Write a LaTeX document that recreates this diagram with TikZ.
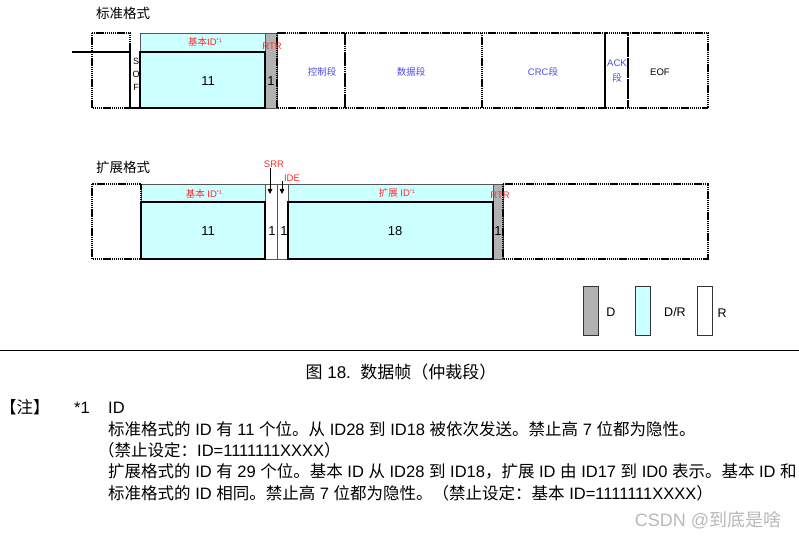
\documentclass[tikz,border=0pt]{standalone}
\usepackage{fontspec}
\setmainfont{Liberation Sans}
\newfontfamily\cjkfont{Noto Sans CJK SC}
\usetikzlibrary{arrows.meta,positioning}

% switch to the CJK font for Chinese characters and back for Latin
\XeTeXinterchartokenstate=1
\newXeTeXintercharclass\cjkclass
\newcount\cjkcode
\cjkcode="3000
\loop\XeTeXcharclass\cjkcode=\cjkclass\advance\cjkcode by 1 \ifnum\cjkcode<"3040 \repeat
\cjkcode="4E00
\loop\XeTeXcharclass\cjkcode=\cjkclass\advance\cjkcode by 1 \ifnum\cjkcode<"A000 \repeat
\cjkcode="FF00
\loop\XeTeXcharclass\cjkcode=\cjkclass\advance\cjkcode by 1 \ifnum\cjkcode<"FFF0 \repeat
\XeTeXinterchartoks 0 \cjkclass = {\cjkfont}
\XeTeXinterchartoks 4095 \cjkclass = {\cjkfont}
\XeTeXinterchartoks \cjkclass 0 = {\rmfamily}
\XeTeXinterchartoks \cjkclass 4095 = {\rmfamily}

\definecolor{canCyan}{HTML}{CCFFFF}
\definecolor{canGray}{HTML}{B2B2B2}
\definecolor{canRed}{HTML}{FF2A2A}
\definecolor{canBlue}{HTML}{4B4BE6}
\definecolor{canEdge}{HTML}{555555}
\definecolor{canMark}{HTML}{B8B8B8}

\newcommand\fnmark{\raisebox{0.6ex}{\fontsize{5.5}{6}\selectfont *1}}

\tikzset{
  fieldbox/.style={draw, line width=2pt, dash pattern=on 1.4pt off 0.7pt},
  cellbox/.style={draw=canEdge, line width=0.6pt},
  idcell/.style={cellbox, fill=canCyan},
  rtrcell/.style={cellbox, fill=canGray},
  idframe/.style={draw, line width=2.3pt},
  busline/.style={draw, line width=2.3pt},
  frametitle/.style={font=\fontsize{13.5}{15}\selectfont, inner sep=0pt},
  redtag/.style={text=canRed, font=\fontsize{9.5}{10}\selectfont, inner sep=0pt},
  fieldtag/.style={text=canBlue, font=\fontsize{9.5}{10}\selectfont, inner sep=0pt, align=center},
  bitnum/.style={font=\fontsize{13}{14}\selectfont, inner sep=0pt},
  softag/.style={font=\fontsize{9}{10}\selectfont, inner sep=0pt},
  keybox/.style={draw=black!80, line width=0.8pt},
  keytag/.style={font=\fontsize{12.5}{14}\selectfont, inner sep=0pt},
  bitarrow/.style={-{Triangle[length=5pt,width=4.5pt]}, line width=0.8pt},
  notetext/.style={font=\fontsize{16.5}{20}\selectfont, inner sep=0pt, anchor=base west}
}

\begin{document}
\begin{tikzpicture}[x=1pt, y=-1pt]
  \useasboundingbox (0,0) rectangle (799,537);

  % standard format
  \node[frametitle] (stdtitle) at (123,13) {标准格式};
  \draw[idcell] (140,33) rectangle (265,108);
  \draw[rtrcell] (265,33) rectangle (277,108);
  \draw[fieldbox] (92,33) rectangle (130,108);
  \draw[fieldbox] (277,33) rectangle (345,108);
  \draw[fieldbox] (345,33) rectangle (482,108);
  \draw[fieldbox] (482,33) rectangle (605,108);
  \draw[fieldbox] (605,33) rectangle (628,108);
  \draw[fieldbox] (628,33) rectangle (708,108);
  \draw[busline] (72,52) -- (130,52) -- (130,108) -- (140,108);
  \draw[idframe] (140,52) rectangle (265,108);
  \node[redtag] (stdbase) at (205,42) {基本ID\fnmark};
  \node[bitnum] (stdbasen) at (208,81) {11};
  \node[redtag] (stdrtr) at (272,46) {RTR};
  \node[bitnum] (stdrtrn) at (271,81) {1};
  \node[softag] (sofs) at (136,61) {S};
  \node[softag] (sofo) at (136,74) {O};
  \node[softag] (soff) at (136,87) {F};
  \node[fieldtag] (ctrl) at (322,72) {控制段};
  \node[fieldtag] (data) at (411,72) {数据段};
  \node[fieldtag] (crc) at (543,72) {CRC段};
  \node[fieldtag] (ack) at (617,63) {ACK};
  \node[fieldtag] (ackd) at (617,78) {段};
  \node[softag, font=\fontsize{9.5}{10}\selectfont] (eof) at (660,72) {EOF};

  % extended format
  \node[frametitle] (exttitle) at (123,167) {扩展格式};
  \draw[idcell] (141,184) rectangle (265,259);
  \draw[cellbox, fill=white] (265,184) rectangle (277,259);
  \draw[cellbox, fill=white] (277,184) rectangle (288,259);
  \draw[idcell] (288,184) rectangle (493,259);
  \draw[rtrcell] (493,184) rectangle (503,259);
  \draw[fieldbox] (92,184) rectangle (141,259);
  \draw[fieldbox] (503,184) rectangle (708,259);
  \draw[idframe] (141,202) rectangle (265,259);
  \draw[idframe] (288,202) rectangle (493,259);
  \node[redtag] (extbase) at (204,194) {基本 ID\fnmark};
  \node[bitnum] (extbasen) at (208,231) {11};
  \node[redtag] (srr) at (274,164) {SRR};
  \node[redtag] (ide) at (292,178) {IDE};
  \coordinate (srrtip) at (270,194);
  \coordinate (idetip) at (282,194);
  \draw[bitarrow] (srr.south -| srrtip) -- (srrtip);
  \draw[bitarrow] (ide.south -| idetip) -- (idetip);
  \node[bitnum] (srrn) at (272,231) {1};
  \node[bitnum] (iden) at (284,231) {1};
  \node[redtag] (extid) at (397,193) {扩展 ID\fnmark};
  \node[bitnum] (extidn) at (395,231) {18};
  \node[redtag] (extrtr) at (500,195) {RTR};
  \node[bitnum] (extrtrn) at (498,231) {1};

  % legend
  \draw[keybox, fill=canGray] (583,286) rectangle (598,335);
  \draw[keybox, fill=canCyan] (635,286) rectangle (650,335);
  \draw[keybox, fill=white] (697,286) rectangle (712,335);
  \node[keytag] (keyd) at (611,312) {D};
  \node[keytag] (keydr) at (675,312) {D/R};
  \node[keytag] (keyr) at (722,313) {R};

  % caption and notes
  \draw[line width=0.9pt] (0,350) -- (799,350);
  \node[font=\fontsize{17}{20}\selectfont, inner sep=0pt, anchor=base] (caption) at (401,378) {图 18.\ \ 数据帧（仲裁段）};
  \node[notetext] (notehead) at (0,413) {【注】};
  \node[notetext] (notemark) at (74,413) {*1};
  \node[notetext] (noteid) at (108,413) {ID};
  \node[notetext] (line1) at (108,435) {标准格式的 ID 有 11 个位。从 ID28 到 ID18 被依次发送。禁止高 7 位都为隐性。};
  \node[notetext] (line2) at (98,456) {（禁止设定：ID=1111111XXXX）};
  \node[notetext] (line3) at (108,477) {扩展格式的 ID 有 29 个位。基本 ID 从 ID28 到 ID18，扩展 ID 由 ID17 到 ID0 表示。基本 ID 和};
  \node[notetext] (line4) at (108,499) {标准格式的 ID 相同。禁止高 7 位都为隐性。（禁止设定：基本 ID=1111111XXXX）};
  \node[font=\fontsize{18}{20}\selectfont, text=canMark, inner sep=0pt] (mark) at (708,520) {CSDN @到底是啥};
\end{tikzpicture}
\end{document}
